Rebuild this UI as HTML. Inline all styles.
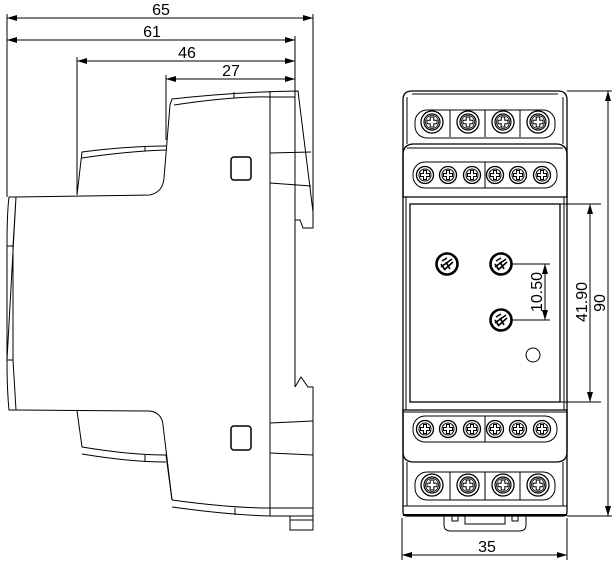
<!DOCTYPE html>
<html><head><meta charset="utf-8"><style>
html,body{margin:0;padding:0;background:#fff;width:614px;height:566px;overflow:hidden}
svg{display:block}
text{font-family:"Liberation Sans",sans-serif;font-size:16px;fill:#000}
</style></head><body>
<svg width="614" height="566" viewBox="0 0 614 566" xmlns="http://www.w3.org/2000/svg">
<defs>
<marker id="a" viewBox="0 0 10 6" refX="10" refY="3" markerWidth="10" markerHeight="6" orient="auto-start-reverse" markerUnits="userSpaceOnUse"><path d="M0,0 L10,3 L0,6 z" fill="#000"/></marker>
<g id="sb"><circle r="11" fill="#fff" stroke="#000" stroke-width="1.3"/><circle r="8" fill="none" stroke="#000" stroke-width="1.2"/><circle r="6.5" fill="none" stroke="#000" stroke-width="0.8"/><path d="M-1.8,-5 h3.6 v3.2 h3.2 v3.6 h-3.2 v3.2 h-3.6 v-3.2 h-3.2 v-3.6 h3.2z" fill="none" stroke="#000" stroke-width="1"/></g>
<g id="ss"><circle r="8.5" fill="#fff" stroke="#000" stroke-width="1.3"/><circle r="6" fill="none" stroke="#000" stroke-width="1"/><path d="M-1.5,-4.5 h3 v3 h3 v3 h-3 v3 h-3 v-3 h-3 v-3 h3z" fill="none" stroke="#000" stroke-width="1"/></g>
<g id="pt"><circle r="10.5" fill="#fff" stroke="#000" stroke-width="2.6"/><path d="M-6,3 L5,-5 M-3,6 L6,-2 M-5,-3 L0,-6 M-1,-2 L3,5 M-6,0 L-2,6" stroke="#000" stroke-width="1.6"/></g>
</defs>
<g fill="none" stroke="#000" stroke-width="1">
<line x1="7" y1="18" x2="313" y2="18" marker-start="url(#a)" marker-end="url(#a)"/>
<line x1="7" y1="40" x2="295" y2="40" marker-start="url(#a)" marker-end="url(#a)"/>
<line x1="77" y1="61" x2="295" y2="61" marker-start="url(#a)" marker-end="url(#a)"/>
<line x1="166" y1="79" x2="295" y2="79" marker-start="url(#a)" marker-end="url(#a)"/>
<line x1="7" y1="14" x2="7" y2="197"/>
<line x1="313" y1="14" x2="313" y2="212"/>
<line x1="295" y1="36" x2="295" y2="387"/>
<line x1="77" y1="57" x2="77" y2="195"/>
<line x1="166" y1="75" x2="166" y2="140"/>
<path d="M7,246 C7,225 8,205 9,197 L16,197 L150,195 Q163,192 164,178 L170,105 L172,99 Q234,92 298,91 L313,212 L313,228 L303,228 L300,220 L295,220"/>
<path d="M16,197 L13,246 L13,360 L16,410 L9,410 C8,400 7,380 7,360 Z"/>
<line x1="7" y1="246" x2="13" y2="246"/><line x1="7" y1="360" x2="13" y2="360"/><line x1="7" y1="246" x2="7" y2="360"/>
<path d="M174,105 Q234,96 270,97 L295,97"/>
<line x1="234" y1="92" x2="234" y2="98"/>
<line x1="270" y1="91" x2="270" y2="516"/>
<path d="M77,195 L82,152 Q130,146 166,146"/>
<path d="M82,158 Q130,151 166,150"/>
<line x1="145" y1="146" x2="145" y2="151"/>
<path d="M16,410 L150,411 Q162,413 163,425 L172,500"/>
<path d="M77,411 L82,447 Q130,455 166,455 L172,500"/>
<path d="M82,454 Q130,462 166,462"/>
<line x1="145" y1="455" x2="145" y2="462"/>
<path d="M172,500 Q230,508 270,508 L313,508"/>
<path d="M172,507 Q230,515 270,516 L313,516"/>
<line x1="235" y1="508" x2="235" y2="515"/>
<path d="M290,516 L290,530 L313,530 L313,516"/><line x1="290" y1="520" x2="313" y2="520"/>
<path d="M295,387 L301,377 L308,387 L313,387 L313,516"/>
<line x1="270" y1="153" x2="311" y2="152"/><line x1="270" y1="183" x2="311" y2="186"/>
<line x1="270" y1="423" x2="313" y2="421"/><line x1="270" y1="453" x2="313" y2="455"/>
<rect x="231" y="157" width="20" height="23" rx="3" stroke-width="1.5"/>
<rect x="231" y="426" width="20" height="24" rx="3" stroke-width="1.5"/>

<path d="M403,100 Q403,91 412,91 L558,91 Q567,91 567,100 L567,512 Q567,516 563,516 L407,516 Q403,516 403,512 Z" stroke-width="1.3"/>
<line x1="412" y1="94" x2="558" y2="94"/>
<line x1="407" y1="97" x2="407" y2="144"/><line x1="563" y1="97" x2="563" y2="144"/>
<rect x="415" y="110" width="140" height="28" rx="12"/>
<line x1="450" y1="110" x2="450" y2="137"/><line x1="485" y1="110" x2="485" y2="137"/><line x1="520" y1="110" x2="520" y2="137"/>
<path d="M403,155 Q403,144 414,144 L556,144 Q567,144 567,155 L567,197 L403,197 Z" stroke-width="1.3"/>
<line x1="407" y1="148" x2="563" y2="148"/>
<rect x="413" y="162" width="144" height="26" rx="12"/>
<line x1="485" y1="162" x2="485" y2="188"/>
<rect x="410" y="204" width="150" height="198" stroke-width="1.3"/>
<line x1="406" y1="197" x2="406" y2="410"/><line x1="564" y1="197" x2="564" y2="410"/>
<path d="M403,410 L567,410 L567,452 Q567,462 556,462 L414,462 Q403,462 403,452 Z" stroke-width="1.3"/>
<line x1="403" y1="412" x2="567" y2="412"/>
<rect x="413" y="416" width="144" height="26" rx="12"/>
<line x1="485" y1="416" x2="485" y2="442"/>
<line x1="407" y1="462" x2="407" y2="506"/><line x1="563" y1="462" x2="563" y2="506"/>
<rect x="415" y="472" width="140" height="28" rx="12"/>
<line x1="450" y1="472" x2="450" y2="500"/><line x1="485" y1="472" x2="485" y2="500"/><line x1="520" y1="472" x2="520" y2="500"/>
<line x1="403" y1="506" x2="567" y2="506"/>
<line x1="403" y1="515" x2="567" y2="515" stroke-width="2"/>
<path d="M444,516 L444,525 Q444,531 451,531 L519,531 Q526,531 526,525 L526,516"/>
<rect x="465" y="516" width="40" height="8"/>
<rect x="452" y="516" width="6" height="5"/><rect x="512" y="516" width="6" height="5"/>
<circle cx="533" cy="355" r="7"/>
<line x1="500" y1="264" x2="550" y2="264"/>
<line x1="500" y1="320" x2="550" y2="320"/>
<line x1="545" y1="264" x2="545" y2="320" marker-start="url(#a)" marker-end="url(#a)"/>
<line x1="560" y1="204" x2="601" y2="204"/><line x1="560" y1="402" x2="601" y2="402"/>
<line x1="590" y1="204" x2="590" y2="402" marker-start="url(#a)" marker-end="url(#a)"/>
<line x1="567" y1="91" x2="612" y2="91"/><line x1="567" y1="516" x2="612" y2="516"/>
<line x1="608" y1="91" x2="608" y2="516" marker-start="url(#a)" marker-end="url(#a)"/>
<line x1="402" y1="518" x2="402" y2="560"/><line x1="567" y1="518" x2="567" y2="560"/>
<line x1="402" y1="555" x2="567" y2="555" marker-start="url(#a)" marker-end="url(#a)"/>
</g>
<use href="#sb" x="432" y="122"/><use href="#sb" x="468" y="122"/><use href="#sb" x="503" y="122"/><use href="#sb" x="538" y="122"/>
<use href="#sb" x="432" y="485"/><use href="#sb" x="468" y="485"/><use href="#sb" x="503" y="485"/><use href="#sb" x="538" y="485"/>
<use href="#ss" x="425" y="175"/><use href="#ss" x="448" y="175"/><use href="#ss" x="472" y="175"/><use href="#ss" x="495" y="175"/><use href="#ss" x="518" y="175"/><use href="#ss" x="542" y="175"/>
<use href="#ss" x="425" y="429"/><use href="#ss" x="448" y="429"/><use href="#ss" x="472" y="429"/><use href="#ss" x="495" y="429"/><use href="#ss" x="518" y="429"/><use href="#ss" x="542" y="429"/>
<use href="#pt" x="447" y="264"/><use href="#pt" x="501" y="264"/><use href="#pt" x="501" y="320"/>
<text x="161" y="15" text-anchor="middle">65</text>
<text x="152" y="37" text-anchor="middle">61</text>
<text x="187" y="58" text-anchor="middle">46</text>
<text x="231" y="76" text-anchor="middle">27</text>
<text x="487" y="552" text-anchor="middle">35</text>
<text transform="translate(542,292) rotate(-90)" text-anchor="middle">10.50</text>
<text transform="translate(587,302) rotate(-90)" text-anchor="middle">41.90</text>
<text transform="translate(605,303) rotate(-90)" text-anchor="middle">90</text>
</svg>
</body></html>
